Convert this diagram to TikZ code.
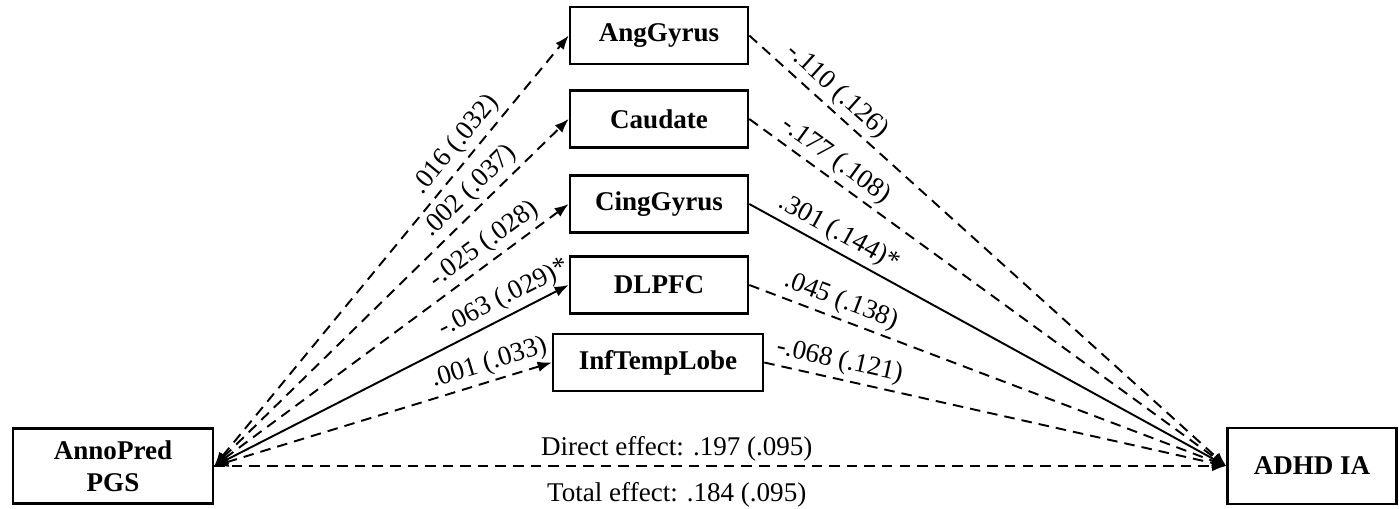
\documentclass[tikz,border=0pt]{standalone}
\usepackage{fontspec}
\setmainfont{Liberation Serif}
\usetikzlibrary{arrows.meta,positioning}

\begin{document}
\begin{tikzpicture}[
    x=0.02cm, y=-0.02cm,
    >={Latex[length=8pt,width=6pt]},
    varbox/.style={draw, rectangle, line width=1.5pt, align=center, font=\fontsize{15.4}{18}\selectfont\bfseries},
    medbox/.style={varbox, minimum width=3.56cm, minimum height=1.14cm},
    efflink/.style={line width=1.1pt},
    nsig/.style={dash pattern=on 6pt off 4pt},
    coef/.style={font=\fontsize{15.4}{18}\selectfont, sloped, above, inner sep=2.5pt}
]
    \useasboundingbox (0,0) rectangle (1399,508);

    \node[varbox, minimum width=4cm, minimum height=1.5cm] (pgs) at (113,466) {AnnoPred\\PGS};
    \node[varbox, minimum width=3.38cm, minimum height=1.52cm] (adhd) at (1312,466) {ADHD IA};

    \foreach \n/\txt/\y in {ang/AngGyrus/35.5, cau/Caudate/119, cing/CingGyrus/204, dlpfc/DLPFC/285} \node[medbox] (\n) at (659,\y) {\txt};
    \node[medbox, minimum width=4.2cm] (itl) at (658,362.5) {InfTempLobe};

    % paths a (PGS to mediator) and b (mediator to ADHD IA)
    \foreach \n/\sa/\pa/\a/\sb/\pb/\b in {ang/nsig/0.72/.016 (.032)/nsig/0.16/-.110 (.126),
        cau/nsig/0.755/.002 (.037)/nsig/0.16/-.177 (.108),
        cing/nsig/0.79/-.025 (.028)/solid/0.17/.301 (.144)*,
        dlpfc/solid/0.84/-.063 (.029)*/nsig/0.18/.045 (.138),
        itl/nsig/0.83/.001 (.033)/nsig/0.155/-.068 (.121)} {
        \draw[efflink, <->, \sa] (pgs.east) -- node[coef, pos=\pa] {\a} (\n.west);
        \draw[efflink, ->, \sb] (\n.east) -- node[coef, pos=\pb] {\b} (adhd.west);
    }

    \draw[efflink, ->, nsig] (pgs.east) -- node[pos=0.457, above, inner sep=2pt, font=\fontsize{15.4}{18}\selectfont] {Direct effect: .197 (.095)}
        node[pos=0.457, below=7pt, inner sep=2pt, font=\fontsize{15.4}{18}\selectfont] {Total effect: .184 (.095)} (adhd.west);
\end{tikzpicture}
\end{document}
